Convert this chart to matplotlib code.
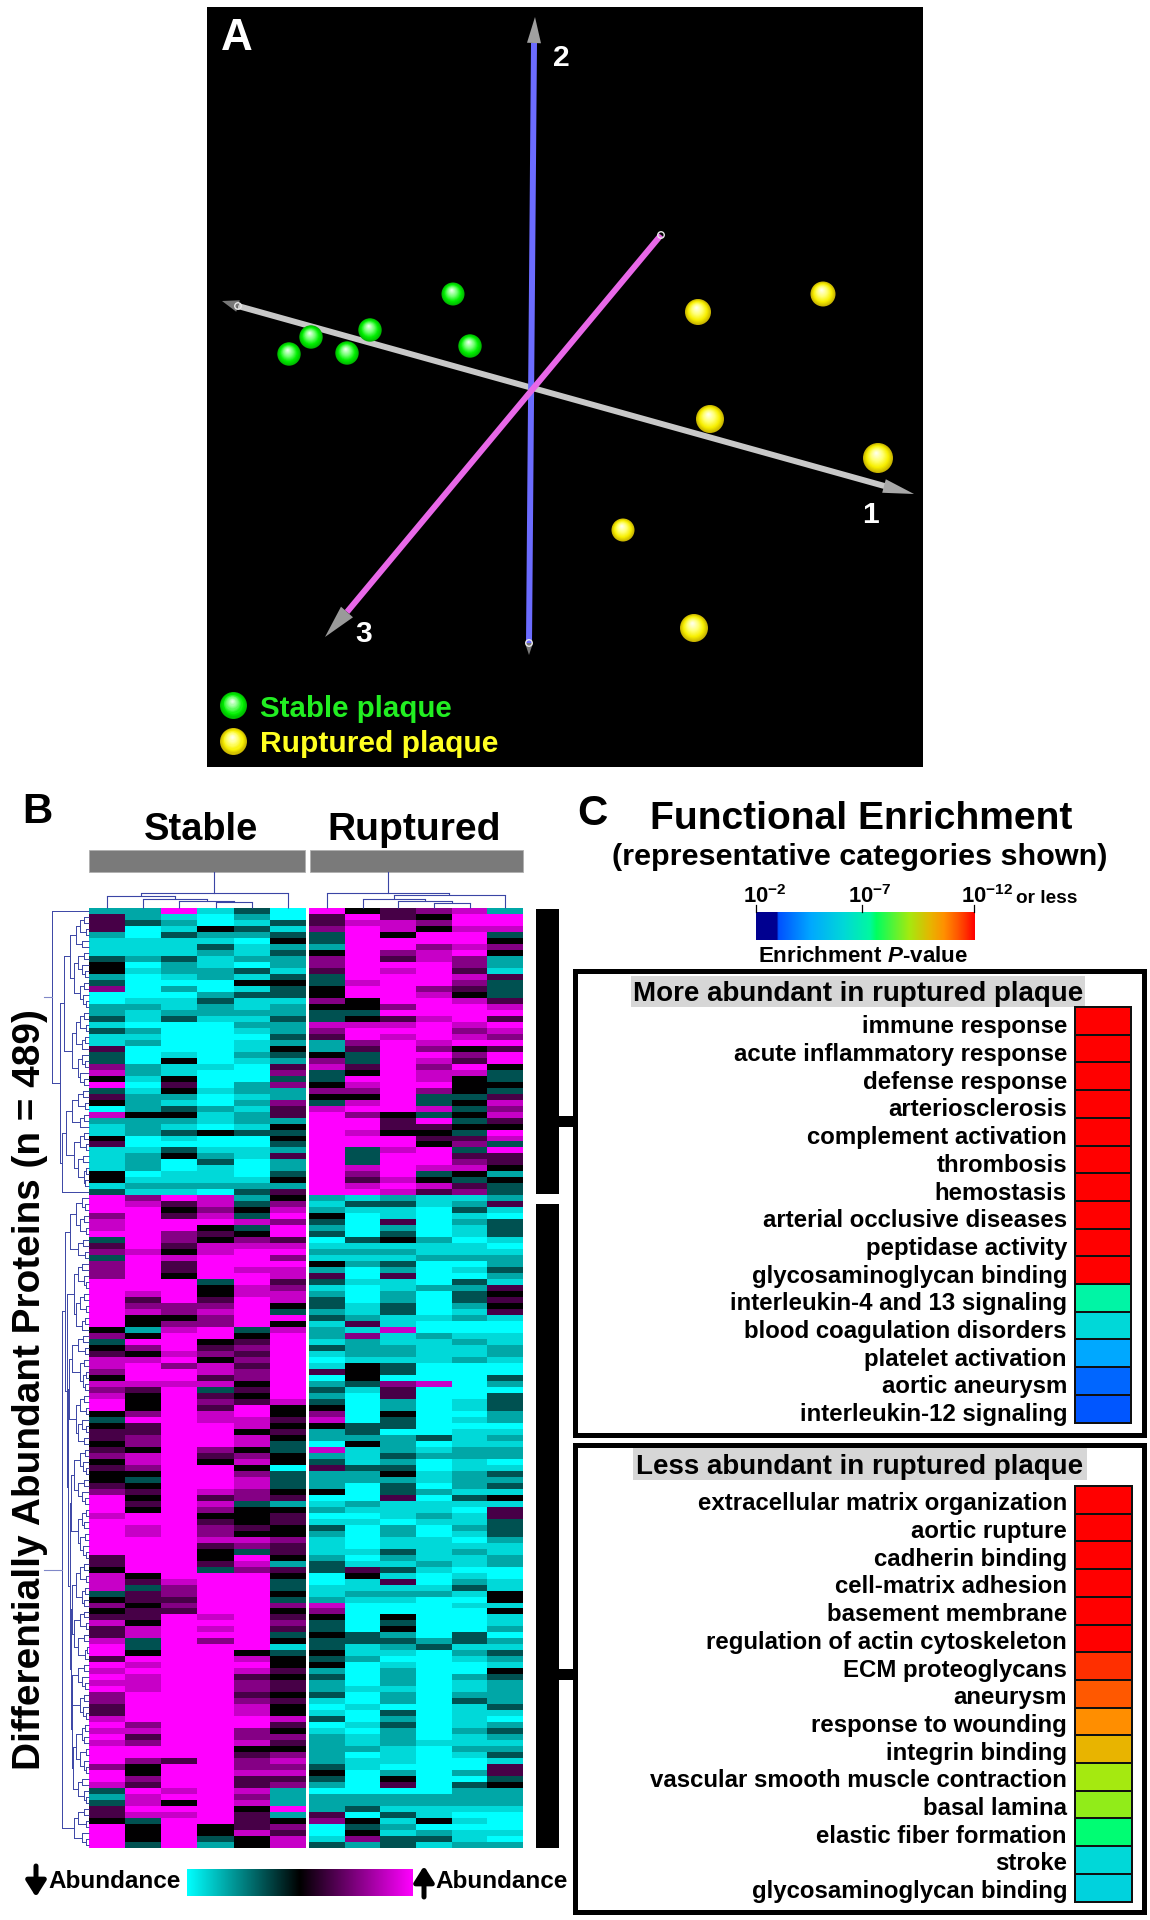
import numpy as np
import matplotlib
matplotlib.use("Agg")
import matplotlib.pyplot as plt
from matplotlib.colors import LinearSegmentedColormap
from matplotlib.patches import Polygon, Rectangle

plt.rcParams['font.family'] = ['Liberation Sans', 'DejaVu Sans']
plt.rcParams['font.weight'] = 'bold'
plt.rcParams['mathtext.fontset'] = 'custom'
plt.rcParams['mathtext.bf'] = 'Liberation Sans:bold'
plt.rcParams['mathtext.rm'] = 'Liberation Sans:bold'
plt.rcParams['mathtext.it'] = 'Liberation Sans:italic:bold'

# panel A, points
stable_x = [453, 311, 370, 347, 289, 470]
stable_y = [294, 337, 330, 353, 354, 346]
stable_r = [11.5, 11.7, 11.7, 11.7, 11.7, 11.7]
ruptured_x = [698, 823, 710, 878, 623, 694]
ruptured_y = [312, 294, 419, 458, 530, 628]
ruptured_r = [13, 12.5, 14, 15, 11.5, 14]

axis_names = ['1', '2', '3']
axis_start_x = [238, 534, 347]
axis_start_y = [306, 43, 612]
axis_end_x = [888, 529, 661]
axis_end_y = [487, 643, 235]
axis_colors = ['#c8c8c8', '#6c6cff', '#e868e8']

# heat map, one string per sample, 0 cyan .. 4 black .. 8 magenta, 6 px bands
stable_top = [
    "2555211134 4236002231 3115336748 3540721145 11114413",
    "2230011120 1000012110 2120002210 1222422200 12220121",
    "8121311132 2102011230 0000141145 4213421310 34001121",
    "1004213211 2200232210 0000001000 1002110400 12311120",
    "3213201120 3141311212 1011210002 2121221300 11000123",
    "0031342322 1343312232 2324325636 2265524343 25223425",
]
stable_low = [
    "8886778356 3666888888 8846345776 4767884345 5456454456 8887888888 5547773464 5755788587 8786655787 8788868873 235548888",
    "6788888887 8888887567 4424864788 8754446855 6647764345 4548877888 8884535545 5477334878 7778888867 5688644658 778734443",
    "8545886654 7554888866 4678887868 8788888888 8888888888 8888888888 8888766565 8888888888 8888888888 8888588887 848788888",
    "7767845477 8888344567 6688456477 5735657788 8865488887 5764566754 4538888888 7878688888 8888888888 8888888888 888884432",
    "2343734678 8878877888 8834565656 6454588774 7746746776 6344454763 8768888888 8888884787 5665677886 6745667557 674555744",
    "4678688578 6877567743 8478888888 8888744545 4334403334 5245544655 4254334364 5653413445 4554544754 6546767562 228246577",
]
ruptured_top = [
    "8556332466 5334464337 6522467334 6437888888 88888888",
    "4878888888 8878844347 8865335487 6478688788 33376578",
    "5577488658 7888886857 8788888888 8888455488 78888787",
    "6464886778 8886788878 8876876778 6337385454 88873475",
    "7887887866 5765478887 6784658744 4343434356 35674356",
    "2887346422 1533357858 7685884334 3576754873 85542433",
]
ruptured_low = [
    "2124323012 1425312332 3122131015 0232346742 2072352224 0120132111 2330011276 4334334342 3223101301 2222234320 222560013",
    "1310000312 1200100011 2516222144 4310000033 2411132200 0210100001 0154112100 0003311200 0010010010 1120110000 223043462",
    "2311523412 1325112233 1171122133 0655224330 2223234233 5111022113 2131512100 4342321012 2212203232 2211102450 221312133",
    "1100000211 2000020000 1002111100 0700000000 3012001102 0112100111 1210012000 0000230000 0000000000 0100000000 221140231",
    "1231211011 2010323321 2001211200 0000110101 1122112221 3101121012 1101231010 0003312100 2112311112 1121002032 221010112",
    "2510333101 2232154545 1001122100 3203332201 2122013231 4155333211 2200114414 1120213214 3222231023 2123155342 221000102",
]
level_values = [-1, -0.85, -0.65, -0.32, 0, 0.28, 0.52, 0.78, 1]

# dendrograms, (height, child, child), leaf = row or column number
stable_cols = (893, (895.5, 0, (899, 1, (900.5, 2, (902, 3, 4)))), 5)
ruptured_cols = (892.7, 0, (895, (899, 1, (901, 2, (903, 3, 4))), 5))

t1 = (70, (76, (80, (84, 1, 2), (86, 3, 4)), (82, 5, 6)), (74, (78, (84, 7, 8), (82, 9, (85, 10, 11))), (80, (84, 12, 13), (83, 14, (86, 15, 16)))))
t2 = (72, (76, (80, (84, 17, 18), (86, 19, 20)), (82, (85, 21, 22), 23)), (78, (82, 24, (85, 25, 26)), (80, 27, (84, 28, 29))))
t3 = (66, (72, (78, (83, 30, 31), (85, 32, 33)), (80, (84, 34, 35), 36)), (74, (80, (84, 37, 38), (86, 39, 40)), (78, (83, 41, 42), (84, (86, 43, 44), (85, 45, 46)))))
top_rows = (52, 0, (60, (64, t1, t2), (62, t3, 47)))

s1 = (70, (76, (82, 48, (85, 49, 50)), (80, (84, 51, 52), (86, 53, 54))), (78, (83, 55, 56), (85, 57, 58)))
s2 = (74, (78, (82, 59, 60), (84, 61, (86, 62, 63))), (76, (80, (84, 64, 65), (86, 66, 67)), (82, (85, 68, 69), 70)))
s3 = (72, (78, (83, 71, 72), (85, 73, 74)), (80, (84, 75, 76), (83, (86, 77, 78), (85, 79, 80))))
s4 = (76, (80, (84, 81, 82), (86, 83, 84)), (78, (82, 85, (86, 86, 87)), (84, 88, 89)))
s5 = (74, (80, (85, 90, 91), (83, 92, (86, 93, 94))), (78, (84, 95, 96), (82, 97, (85, 98, 99))))
s6 = (78, (82, (86, 100, 101), (84, 102, 103)), (80, (85, 104, 105), (83, 106, (86, 107, 108))))
s7 = (76, (80, (84, 109, 110), (86, 111, 112)), (82, (85, 113, 114), (84, 115, 116)))
s8 = (74, (80, (84, 117, 118), (86, 119, 120)), (78, (84, 121, 122), (85, (87, 123, 124), 125)))
s9 = (72, (78, (84, 126, 127), (82, 128, (85, 129, 130))), (80, (84, 131, 132), (83, 133, (86, 134, 135))))
s10 = (76, (82, (85, 136, 137), (84, 138, 139)), (80, (86, 140, 141), (84, 142, (86, 143, 144))))
s11 = (78, (82, 145, 146), (84, 147, (86, 148, 149)))
s12 = (74, (78, (84, 150, 151), (86, 152, 153)), (82, 154, (86, 155, 156)))
low_rest = (70, (71, s5, s6), (71, (72, s7, s8), (72, s9, (73, s10, s11))))
low_rows = (62, (65, s1, (67, s2, (68, (69, s3, s4), low_rest))), s12)

# panel C
more_labels = ["immune response", "acute inflammatory response", "defense response", "arteriosclerosis",
               "complement activation", "thrombosis", "hemostasis", "arterial occlusive diseases",
               "peptidase activity", "glycosaminoglycan binding", "interleukin-4 and 13 signaling",
               "blood coagulation disorders", "platelet activation", "aortic aneurysm", "interleukin-12 signaling"]
more_exponent = [12, 12, 12, 12, 12, 12, 12, 12, 12, 12, 7.1, 6.0, 4.5, 3.4, 3.1]
less_labels = ["extracellular matrix organization", "aortic rupture", "cadherin binding", "cell-matrix adhesion",
               "basement membrane", "regulation of actin cytoskeleton", "ECM proteoglycans", "aneurysm",
               "response to wounding", "integrin binding", "vascular smooth muscle contraction", "basal lamina",
               "elastic fiber formation", "stroke", "glycosaminoglycan binding"]
less_exponent = [12, 12, 12, 12, 12, 12, 11.6, 11.2, 10.6, 10.0, 9.0, 8.8, 7.4, 6.0, 5.8]

enrich_cmap = LinearSegmentedColormap.from_list("enrich", [
    (0, '#000090'), (0.095, '#000090'), (0.1, '#0050ff'), (0.25, '#00a8ff'), (0.4, '#00d8d8'), (0.52, '#00f8a0'),
    (0.55, '#00ff60'), (0.7, '#a4ea10'), (0.8, '#e8b400'), (0.86, '#ff9000'), (0.92, '#ff5a00'), (0.96, '#ff3000'),
    (1, '#ff0000')])
abund_cmap = LinearSegmentedColormap.from_list("abund", ['#00ffff', '#000000', '#ff00ff'])


def pt(px):
    return px * 0.72


def to_matrix(top, low):
    cols = []
    for a, b in zip(top, low):
        s = (a + b).replace(" ", "")
        cols.append([level_values[int(c)] for c in s])
    return np.array(cols).T


def draw_tree(ax, node, pos, leaf_h, horizontal=False):
    if not isinstance(node, tuple):
        return pos(node), leaf_h
    h = node[0]
    kids = [draw_tree(ax, k, pos, leaf_h, horizontal) for k in node[1:]]
    p = [k[0] for k in kids]
    mid = (min(p) + max(p)) / 2
    for kp, kh in kids:
        if horizontal:
            ax.plot([kp, kp], [h, kh], color='#3a45a5', lw=0.8, solid_capstyle='butt')
        else:
            ax.plot([h, kh], [kp, kp], color='#3a45a5', lw=0.7, solid_capstyle='butt')
    if horizontal:
        ax.plot([min(p), max(p)], [h, h], color='#3a45a5', lw=0.8)
    else:
        ax.plot([h, h], [min(p), max(p)], color='#3a45a5', lw=0.7)
    return mid, h


def draw_spheres(ax, xs, ys, rs, cmap, z=5):
    for f in np.linspace(1, 0.08, 16):
        x = [a - 0.12 * r * (1 - f) for a, r in zip(xs, rs)]
        y = [b - 0.35 * r * (1 - f) for b, r in zip(ys, rs)]
        s = [(2 * r * f * 0.72) ** 2 for r in rs]
        ax.scatter(x, y, s=s, color=cmap(1 - f), linewidths=0, zorder=z)


def draw_cone(ax, tip, base, hw=7, color='#8a8a8a'):
    d = np.array(tip, float) - np.array(base, float)
    n = np.array([-d[1], d[0]]) / np.hypot(*d) * hw
    ax.add_patch(Polygon([tip, np.array(base) + n, np.array(base) - n], closed=True, color=color, zorder=4, lw=0))


fig = plt.figure(figsize=(11.5, 19.2), dpi=100, facecolor='white')
ax = fig.add_axes([0, 0, 1, 1])

# ---- panel A
ax.add_patch(Rectangle((207, 7), 716, 760, color='black', lw=0, zorder=1))
for i in range(3):
    ax.plot([axis_start_x[i], axis_end_x[i]], [axis_start_y[i], axis_end_y[i]], color=axis_colors[i],
            lw=pt(6), solid_capstyle='butt', zorder=3)
draw_cone(ax, (222, 301), (238, 306), 6, '#777777')
draw_cone(ax, (914, 494), (884, 486), 7, '#a8a8a8')
draw_cone(ax, (535, 17), (534, 43), 7, '#a0a0a0')
draw_cone(ax, (529, 655), (529, 643), 4, '#777777')
draw_cone(ax, (325, 637), (347, 612), 8, '#9a9a9a')
ax.scatter([238, 529, 661], [306, 643, 235], s=22, facecolors='none', edgecolors='#e8e8e8', linewidths=1, zorder=4)
ax.text(871, 515, axis_names[0], color='white', fontsize=pt(30), ha='center', va='center', zorder=6)
ax.text(561, 58, axis_names[1], color='white', fontsize=pt(30), ha='center', va='center', zorder=6)
ax.text(364, 634, axis_names[2], color='white', fontsize=pt(30), ha='center', va='center', zorder=6)

green = LinearSegmentedColormap.from_list("g", [(0, '#00b800'), (0.25, '#00f000'), (0.55, '#70ff70'), (1, '#ffffff')])
yellow = LinearSegmentedColormap.from_list("y", [(0, '#c8b400'), (0.25, '#f8f000'), (0.55, '#ffff70'), (1, '#ffffff')])
draw_spheres(ax, stable_x, stable_y, stable_r, green)
draw_spheres(ax, ruptured_x, ruptured_y, ruptured_r, yellow)
draw_spheres(ax, [233], [705], [13.5], green)
draw_spheres(ax, [233], [741], [13.5], yellow)
ax.text(260, 709, "Stable plaque", color='#22ee22', fontsize=pt(29.5), va='center', zorder=6)
ax.text(260, 744, "Ruptured plaque", color='#ffff22', fontsize=pt(30), va='center', zorder=6)
ax.text(221, 50, "A", color='white', fontsize=pt(44), zorder=6)

# ---- panel B
stable_m = to_matrix(stable_top, stable_low)
ruptured_m = to_matrix(ruptured_top, ruptured_low)
ax.imshow(stable_m, cmap=abund_cmap, vmin=-1, vmax=1, extent=(89, 306, 1848, 908), aspect='auto',
          interpolation='nearest', zorder=2)
ax.imshow(ruptured_m, cmap=abund_cmap, vmin=-1, vmax=1, extent=(309, 523, 1848, 908), aspect='auto',
          interpolation='nearest', zorder=2)

row_y = lambda r: 908 + (r + 0.5) * 940 / stable_m.shape[0]
for tree in (top_rows, low_rows):
    y_mid, x_top = draw_tree(ax, tree, row_y, 89)
    ax.plot([44, x_top], [y_mid, y_mid], color='#8088c8', lw=0.8)

col_l = lambda c: 89 + (c + 0.5) * 217 / 6
col_r = lambda c: 309 + (c + 0.5) * 214 / 6
xm, h = draw_tree(ax, stable_cols, col_l, 908, horizontal=True)
ax.plot([xm, xm], [872, h], color='#3a45a5', lw=0.8)
xm, h = draw_tree(ax, ruptured_cols, col_r, 908, horizontal=True)
ax.plot([xm, xm], [872, h], color='#3a45a5', lw=0.8)

ax.add_patch(Rectangle((89, 850), 216, 22, facecolor='#7a7a7a', edgecolor='#b0b0b0', lw=0.6))
ax.add_patch(Rectangle((310, 850), 213, 22, facecolor='#7a7a7a', edgecolor='#b0b0b0', lw=0.6))
ax.text(22, 823, "B", fontsize=pt(42))
ax.text(201, 840, "Stable", fontsize=pt(38), ha='center')
ax.text(414, 840, "Ruptured", fontsize=pt(39), ha='center')
ax.text(30, 1390, "Differentially Abundant Proteins (n = 489)", fontsize=pt(38.7), rotation=90,
        ha='center', va='center')

# brackets
ax.add_patch(Rectangle((536, 909), 23, 285, color='black', lw=0))
ax.add_patch(Rectangle((536, 1204), 23, 644, color='black', lw=0))
ax.add_patch(Rectangle((559, 1116), 16, 11, color='black', lw=0))
ax.add_patch(Rectangle((559, 1669), 16, 11, color='black', lw=0))

# abundance bar
ax.imshow(np.linspace(-1, 1, 256)[None, :], cmap=abund_cmap, extent=(187, 413, 1896, 1869), aspect='auto', zorder=2)
head = '-|>,head_width=0.6,head_length=0.95'
ax.annotate("", xy=(36, 1897), xytext=(36, 1866), arrowprops=dict(arrowstyle=head, color='black', lw=pt(5),
                                                                  shrinkA=0, shrinkB=0))
ax.annotate("", xy=(424, 1866), xytext=(424, 1897), arrowprops=dict(arrowstyle=head, color='black', lw=pt(5),
                                                                    shrinkA=0, shrinkB=0))
ax.text(48, 1882, "Abundance", fontsize=pt(24.2), va='center')
ax.text(435, 1882, "Abundance", fontsize=pt(24.2), va='center')

# ---- panel C
ax.text(577, 825, "C", fontsize=pt(42))
ax.text(861, 829, "Functional Enrichment", fontsize=pt(39), ha='center')
ax.text(860, 865, "(representative categories shown)", fontsize=pt(30.5), ha='center')

ax.imshow(np.linspace(0, 1, 256)[None, :], cmap=enrich_cmap, vmin=0, vmax=1, extent=(756, 975, 940, 912),
          aspect='auto', zorder=2)
for tx in (756, 861.5, 974):
    ax.plot([tx, tx], [905, 912], color='black', lw=0.9)
ax.text(743, 903, r"$\mathbf{10^{-2}}$", fontsize=pt(22))
ax.text(848, 903, r"$\mathbf{10^{-7}}$", fontsize=pt(22))
ax.text(961, 903, r"$\mathbf{10^{-12}}$", fontsize=pt(22))
ax.text(1016, 903, "or less", fontsize=pt(19))
ax.text(863, 962, r"Enrichment $\mathit{P}$-value", fontsize=pt(22.4), ha='center')


def draw_box(labels, exponents, box, head, head_text, tile_x, tile_top, pitch, label_x, label_dy):
    ax.add_patch(Rectangle((box[0], box[1]), box[2] - box[0], box[3] - box[1], facecolor='white',
                           edgecolor='black', lw=pt(5), zorder=1))
    ax.add_patch(Rectangle((head[0], head[1]), head[2] - head[0], head[3] - head[1], color='#d6d6d6', lw=0, zorder=2))
    ax.text((head[0] + head[2]) / 2, head[3] - 6, head_text, fontsize=pt(27.7), ha='center', zorder=3)
    for i, (lab, e) in enumerate(zip(labels, exponents)):
        y = tile_top + i * pitch
        ax.add_patch(Rectangle((tile_x[0], y), tile_x[1] - tile_x[0], pitch, facecolor=enrich_cmap((e - 2) / 10),
                               edgecolor='#101010', lw=pt(2), zorder=2))
        ax.text(label_x, y + pitch / 2 + label_dy, lab, fontsize=pt(24), ha='right', zorder=3)


draw_box(more_labels, more_exponent, (575, 971, 1144, 1435), (631, 976, 1085, 1007),
         "More abundant in ruptured plaque", (1075, 1131), 1007, 27.7, 1067, 12.5)
draw_box(less_labels, less_exponent, (575, 1445, 1144, 1912), (633, 1448, 1087, 1480),
         "Less abundant in ruptured plaque", (1075, 1132), 1486, 27.7, 1067, 10.5)

ax.set_xlim(0, 1150)
ax.set_ylim(1920, 0)
ax.axis('off')
fig.savefig("out.png", dpi=100)
